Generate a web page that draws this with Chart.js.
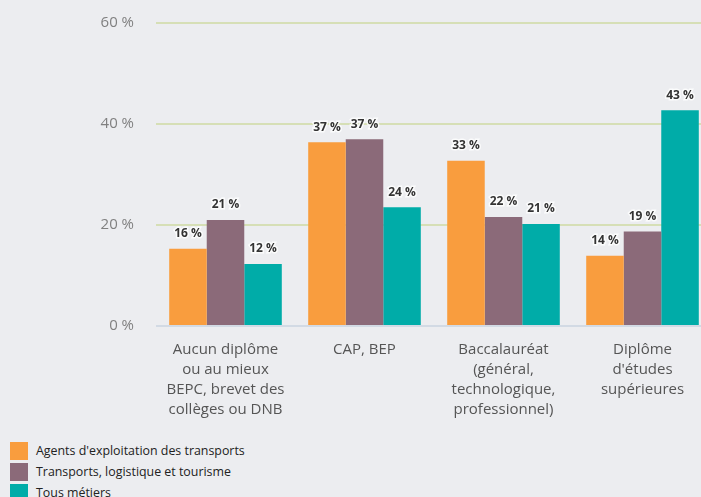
<!DOCTYPE html>
<html>
<head>
<meta charset="utf-8">
<script src="https://cdn.jsdelivr.net/npm/chart.js@4"></script>
<style>
  html, body { margin: 0; padding: 0; background: #ecedf0; overflow: hidden; }
  body { width: 701px; height: 497px; position: relative; font-family: "Open Sans", sans-serif; }
  #wrap { position: absolute; left: 0; top: -8px; width: 716px; height: 434px; }
  #legend { position: absolute; left: 10px; top: 440px; font-size: 12.4px; color: #222; }
  .item { display: flex; align-items: center; height: 21px; }
  .box { width: 18px; height: 18px; margin-right: 8px; }
</style>
</head>
<body>
<div id="wrap"><canvas id="chart"></canvas></div>
<div id="legend"></div>
<script>
// Data
const categories = [
    ['Aucun diplôme', 'ou au mieux', 'BEPC, brevet des', 'collèges ou DNB'],
    ['CAP, BEP'],
    ['Baccalauréat', '(général,', 'technologique,', 'professionnel)'],
    ['Diplôme', "d'études", 'supérieures']
];
const seriesNames = ["Agents d'exploitation des transports", 'Transports, logistique et tourisme', 'Tous métiers'];
const agentsValues = [15.3, 36.4, 32.7, 13.9];
const transportsValues = [21.0, 37.0, 21.6, 18.7];
const tousValues = [12.3, 23.5, 20.2, 42.7];
const agentsLabels = ['16 %', '37 %', '33 %', '14 %'];
const transportsLabels = ['21 %', '37 %', '22 %', '19 %'];
const tousLabels = ['12 %', '24 %', '21 %', '43 %'];
const yTicks = [0, 20, 40, 60];

const colors = ['#f99d3e', '#8b6a79', '#00aca8'];
const shownLabels = [agentsLabels, transportsLabels, tousLabels];

// Labels above bars
const barLabels = {
    id: 'barLabels',
    afterDatasetsDraw(chart) {
        const ctx = chart.ctx;
        ctx.save();
        ctx.font = 'bold 12px "Open Sans", sans-serif';
        ctx.textAlign = 'center';
        ctx.textBaseline = 'middle';
        chart.data.datasets.forEach((ds, i) => {
            chart.getDatasetMeta(i).data.forEach((bar, j) => {
                const txt = shownLabels[i][j];
                const y = bar.y - 15;
                ctx.lineWidth = 3;
                ctx.strokeStyle = 'rgba(255,255,255,0.8)';
                ctx.strokeText(txt, bar.x, y);
                ctx.fillStyle = '#333';
                ctx.fillText(txt, bar.x, y);
            });
        });
        ctx.restore();
    }
};

const chart = new Chart(document.getElementById('chart'), {
    type: 'bar',
    data: {
        labels: categories,
        datasets: [
            { label: seriesNames[0], data: agentsValues, backgroundColor: colors[0] },
            { label: seriesNames[1], data: transportsValues, backgroundColor: colors[1] },
            { label: seriesNames[2], data: tousValues, backgroundColor: colors[2] }
        ]
    },
    options: {
        responsive: true,
        maintainAspectRatio: false,
        animation: false,
        layout: { padding: { top: 8, right: 4, left: 0, bottom: 0 } },
        datasets: { bar: { categoryPercentage: 0.81, barPercentage: 1.0 } },
        plugins: { legend: { display: false }, tooltip: { enabled: false } },
        scales: {
            x: {
                grid: { display: false },
                border: { display: false },
                ticks: {
                    color: '#555',
                    font: { family: 'Open Sans', size: 15, lineHeight: 1.333 },
                    padding: 6,
                    maxRotation: 0
                }
            },
            y: {
                min: 0,
                max: 60,
                afterFit(scale) { scale.width = 156; },
                afterBuildTicks(scale) { scale.ticks = yTicks.map(v => ({ value: v })); },
                border: { display: false },
                grid: {
                    drawTicks: false,
                    lineWidth: 2,
                    color: c => c.tick && c.tick.value === 0 ? '#d2dae4' : '#d6dfb6'
                },
                ticks: {
                    color: '#808080',
                    font: { family: 'Open Sans', size: 15 },
                    padding: 22,
                    callback: v => v + ' %'
                }
            }
        }
    },
    plugins: [barLabels]
});

// Legend
const legend = document.getElementById('legend');
seriesNames.forEach((name, i) => {
    const item = document.createElement('div');
    item.className = 'item';
    item.innerHTML = '<span class="box" style="background:' + colors[i] + '"></span><span>' + name + '</span>';
    legend.appendChild(item);
});
</script>
</body>
</html>
